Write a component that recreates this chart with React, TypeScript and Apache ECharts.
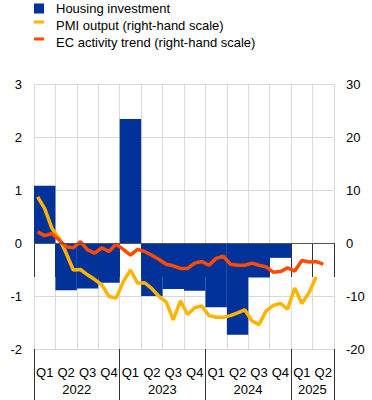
import React, { useEffect, useRef } from "react";
import * as echarts from "echarts";

const quarterLabels = ["Q1", "Q2", "Q3", "Q4", "Q1", "Q2", "Q3", "Q4", "Q1", "Q2", "Q3", "Q4", "Q1", "Q2"];
const yearLabels = ["2022", "2023", "2024", "2025"];
const quartersPerYear = [4, 4, 4, 2];

const housingInvestment = [1.08, -0.89, -0.86, -0.75, 2.34, -1.0, -0.87, -0.9, -1.21, -1.73, -0.65, -0.28, null, null];

const months = [
  "2022-01", "2022-02", "2022-03", "2022-04", "2022-05", "2022-06", "2022-07", "2022-08", "2022-09", "2022-10", "2022-11", "2022-12",
  "2023-01", "2023-02", "2023-03", "2023-04", "2023-05", "2023-06", "2023-07", "2023-08", "2023-09", "2023-10", "2023-11", "2023-12",
  "2024-01", "2024-02", "2024-03", "2024-04", "2024-05", "2024-06", "2024-07", "2024-08", "2024-09", "2024-10", "2024-11", "2024-12",
  "2025-01", "2025-02", "2025-03", "2025-04", "2025-05", "2025-06",
];

const pmiOutput = [
  8.7, 6.5, 2.8, 0.9, -1.9, -5.1, -5.0, -6.0, -6.9, -7.9, -10.1, -10.4,
  -7.3, -5.1, -7.6, -7.5, -8.6, -10.1, -11.1, -14.5, -10.9, -13.5, -12.2, -11.9,
  -13.7, -14.0, -14.0, -13.7, -13.2, -12.6, -14.7, -15.4, -12.8, -11.8, -11.4, -12.5,
  -8.5, -11.4, -9.4, -6.4, null, null,
];

const ecActivityTrend = [
  2.1, 1.4, 1.8, 0.6, -0.7, -0.9, 0.25, -1.3, -1.9, -0.9, -1.6, -0.2,
  -1.2, -2.3, -1.2, -1.6, -2.3, -3.1, -4.0, -4.3, -4.8, -4.8, -3.8, -3.5,
  -4.2, -2.9, -2.5, -4.0, -4.2, -4.2, -3.8, -4.2, -4.5, -5.5, -5.4, -4.7,
  -5.3, -3.3, -3.6, -3.5, -4.0, null,
];

const BLUE = "#003299";
const YELLOW = "#ffb400";
const RED = "#ff4b00";
const FONT = 'Arial, "Liberation Sans", sans-serif';

export default function App() {
  const ref = useRef<HTMLDivElement>(null);

  useEffect(() => {
    if (!ref.current) return;
    const chart = echarts.init(ref.current, undefined, { renderer: "svg" });

    const yearPerQuarter: string[] = [];
    const yearStart: number[] = [];
    quartersPerYear.forEach((n, i) => {
      yearStart.push(yearPerQuarter.length);
      for (let k = 0; k < n; k++) yearPerQuarter.push(yearLabels[i]);
    });
    const yearLabelIdx = yearStart.map((s, i) => s + quartersPerYear[i] / 2 - 1);

    const squareIcon = "path://M0,0L10,0L10,10L0,10Z M17,0L17,10";
    const lineIcon = "path://M0,0L10,0L10,3L0,3Z M17,0L17,10";

    chart.setOption({
      animation: false,
      textStyle: { fontFamily: FONT },
      legend: {
        left: 34,
        top: 2,
        padding: 0,
        orient: "vertical",
        itemWidth: 17,
        itemHeight: 10,
        itemGap: 4,
        textStyle: { fontSize: 13, color: "#000", fontFamily: FONT },
        data: [
          { name: "Housing investment", icon: squareIcon },
          { name: "PMI output (right-hand scale)", icon: lineIcon },
          { name: "EC activity trend (right-hand scale)", icon: lineIcon },
        ],
      },
      grid: { left: 34, right: 38, top: 84, bottom: 51, containLabel: false },
      xAxis: [
        {
          type: "category",
          data: quarterLabels,
          boundaryGap: true,
          axisLine: { show: false },
          axisTick: { show: true, interval: 0, length: 34, lineStyle: { color: "#333", width: 1 } },
          axisLabel: { interval: 0, margin: 17, fontSize: 13, color: "#000", fontFamily: FONT },
          splitLine: { show: true, interval: 0, lineStyle: { color: "#d9d9d9", width: 1 } },
        },
        {
          type: "category",
          data: months,
          boundaryGap: true,
          show: false,
        },
        {
          type: "category",
          data: yearPerQuarter,
          boundaryGap: true,
          position: "bottom",
          axisLine: { show: false },
          axisTick: {
            show: true,
            length: 51,
            interval: (i: number) => yearStart.includes(i),
            lineStyle: { color: "#333", width: 1 },
          },
          axisLabel: {
            interval: (i: number) => yearLabelIdx.includes(i),
            margin: 34,
            fontSize: 13,
            color: "#000",
            fontFamily: FONT,
            padding: [0, 0, 0, 21],
          },
          splitLine: { show: false },
        },
      ],
      yAxis: [
        {
          type: "value",
          min: -2,
          max: 3,
          interval: 1,
          axisLine: { show: false },
          axisTick: { show: false },
          axisLabel: { margin: 12, fontSize: 13, color: "#000", fontFamily: FONT },
          splitLine: { show: true, lineStyle: { color: "#d9d9d9", width: 1 } },
        },
        {
          type: "value",
          min: -20,
          max: 30,
          interval: 10,
          position: "right",
          axisLine: { show: false },
          axisTick: { show: false },
          axisLabel: { margin: 12, fontSize: 13, color: "#000", fontFamily: FONT },
          splitLine: { show: false },
        },
      ],
      series: [
        {
          name: "Housing investment",
          type: "bar",
          xAxisIndex: 0,
          yAxisIndex: 0,
          data: housingInvestment,
          barCategoryGap: 0,
          barGap: 0,
          itemStyle: { color: BLUE },
          markLine: {
            silent: true,
            symbol: "none",
            label: { show: false },
            lineStyle: { color: "#555", width: 1, type: "solid" },
            data: [{ yAxis: 0 }],
          },
          z: 2,
        },
        {
          name: "PMI output (right-hand scale)",
          type: "line",
          xAxisIndex: 1,
          yAxisIndex: 1,
          data: pmiOutput,
          showSymbol: false,
          symbol: "none",
          itemStyle: { color: YELLOW },
          lineStyle: { color: YELLOW, width: 3.5 },
          z: 3,
        },
        {
          name: "EC activity trend (right-hand scale)",
          type: "line",
          xAxisIndex: 1,
          yAxisIndex: 1,
          data: ecActivityTrend,
          showSymbol: false,
          symbol: "none",
          itemStyle: { color: RED },
          lineStyle: { color: RED, width: 3.5 },
          z: 4,
        },
      ],
    });

    return () => chart.dispose();
  }, []);

  return (
    <div
      ref={ref}
      style={{ position: "absolute", left: 0, top: 0, width: 372, height: 400, background: "#fff" }}
    />
  );
}
